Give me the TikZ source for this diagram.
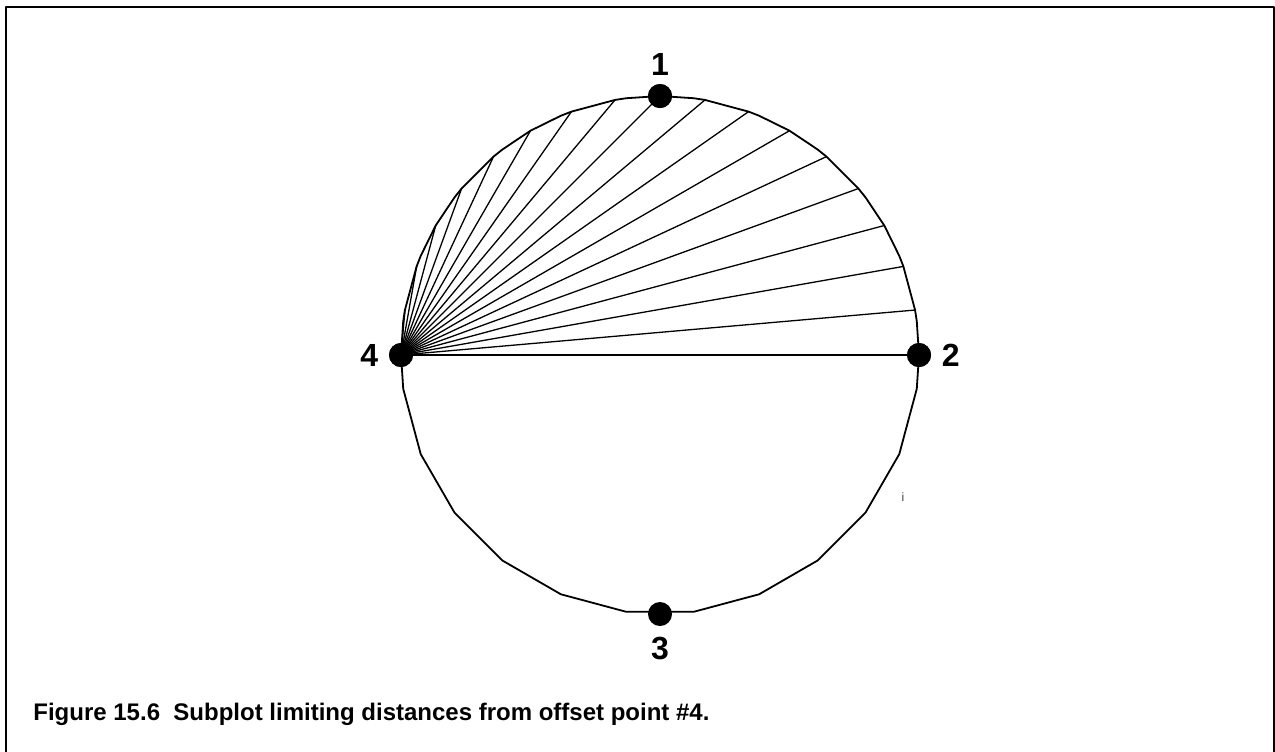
\documentclass[tikz,border=0pt]{standalone}
\usepackage{fontspec}
\setmainfont{Liberation Sans}
\usetikzlibrary{positioning}

\begin{document}
\begin{tikzpicture}[
  x=0.5pt,y=0.5pt,
  line cap=round,
  line join=round,
  frame/.style={draw=black,line width=1pt},
  rim/.style={draw=black,line width=0.9pt},
  chord/.style={draw=black,line width=0.65pt},
  dot/.style={circle,fill=black,inner sep=0pt,minimum size=12pt},
  lbl/.style={font=\bfseries\fontsize{16}{16}\selectfont,inner sep=0pt},
  caption/.style={font=\bfseries\fontsize{12}{14}\selectfont,inner sep=0pt,anchor=base west}
]
\useasboundingbox (0,0) rectangle (1275,-751);

% page frame (open at the bottom)
\draw[frame] (6,-752) -- (6,-7) -- (1273.5,-7) -- (1273.5,-752);

% Subplot with offset point 4
\begin{scope}[shift={(660,-355)}]
  \def\R{259}

  % outline of the subplot
  \draw[rim] (0:\R) foreach \a in {7.5,10,20,22.5,30,37.5,40,50,52.5,60,67.5,70,80,82.5,90,97.5,100,110,112.5,120,127.5,130,140,142.5,150,157.5,160,170,172.5,180,187.5,202.5,...,352.5} { -- (\a:\R) } -- cycle;

  % offset points
  \node[dot] (p1) at (90:\R) {};
  \node[dot] (p2) at (0:\R) {};
  \node[dot] (p3) at (270:\R) {};
  \node[dot] (p4) at (180:\R) {};

  % limiting distances from point 4
  \foreach \k in {0,...,17} {
    \coordinate (e\k) at (\k*10:\R);
    \draw[chord] (p4.center) -- (e\k);
  }
  \node[dot] at (p4) {};
  \node[dot] at (p1) {};
  \node[dot] at (p2) {};

  % point numbers
  \node[lbl,above=4pt of p1] (n1) {1};
  \node[lbl,right=5pt of p2] (n2) {2};
  \node[lbl,below=5pt of p3] (n3) {3};
  \node[lbl,left=5pt of p4] (n4) {4};
\end{scope}

\node[font=\fontsize{6}{6}\selectfont,text=darkgray] (stray) at (903,-497) {i};

\node[caption] (cap) at (33,-720) {Figure 15.6\ \ Subplot limiting distances from offset point \#4.};

\end{tikzpicture}
\end{document}
